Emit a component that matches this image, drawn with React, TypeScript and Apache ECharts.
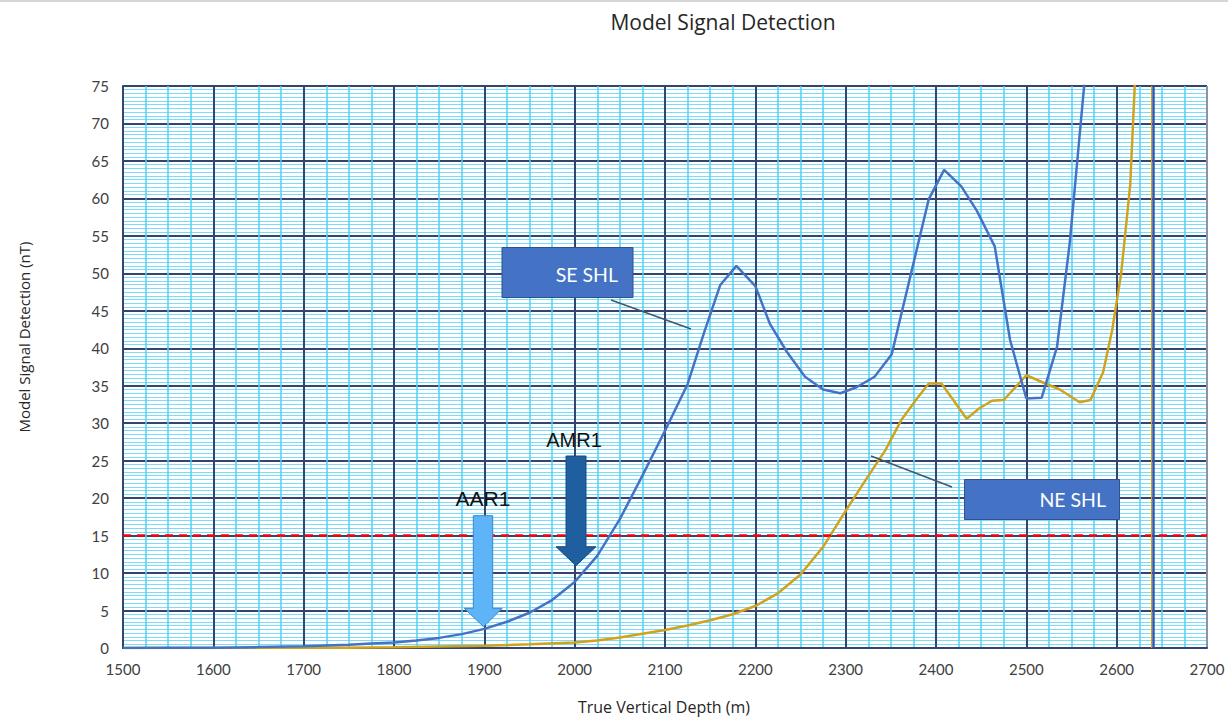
import React, { useEffect, useRef } from "react";
import * as echarts from "echarts";

// True vertical depth (m) and model signal detection (nT)
const seDepth = [1500, 1550, 1600, 1650, 1700, 1750, 1775, 1800, 1825, 1850, 1875, 1900, 1925, 1950, 1975, 2000, 2025, 2050, 2075, 2100, 2125, 2143, 2161, 2179, 2200, 2216, 2235, 2255, 2275, 2294, 2312, 2332, 2351, 2392, 2409, 2428, 2445, 2465, 2482, 2500, 2517, 2534, 2548, 2564, 2580];
const seSignal = [0, 0.02, 0.05, 0.12, 0.25, 0.45, 0.6, 0.75, 1.0, 1.35, 1.85, 2.55, 3.5, 4.7, 6.4, 8.8, 12.3, 17.2, 23.0, 29.0, 35.2, 42.0, 48.4, 51.0, 48.3, 43.3, 39.5, 36.2, 34.5, 34.0, 34.8, 36.2, 39.2, 59.9, 63.8, 61.6, 58.4, 53.6, 41.1, 33.3, 33.4, 40.2, 54.0, 75, 110];

const neDepth = [1500, 1600, 1700, 1750, 1800, 1850, 1900, 1950, 2000, 2025, 2050, 2075, 2100, 2125, 2150, 2175, 2200, 2225, 2250, 2275, 2300, 2322, 2344, 2362, 2379, 2392, 2406, 2434, 2448, 2462, 2475, 2500, 2521, 2537, 2559, 2571, 2585, 2595, 2605, 2615, 2620, 2630];
const neSignal = [0, 0, 0.02, 0.05, 0.1, 0.2, 0.3, 0.5, 0.75, 1.0, 1.4, 1.9, 2.4, 3.0, 3.7, 4.5, 5.6, 7.3, 9.8, 13.5, 18.3, 22.4, 26.4, 30.5, 33.3, 35.3, 35.3, 30.6, 32.0, 33.0, 33.1, 36.4, 35.3, 34.5, 32.8, 33.1, 36.8, 42.4, 50.0, 61.8, 75, 100];

const thresholdLevel = 15;
const tdDepth = 2641;

const xMin = 1500, xMax = 2700, xStep = 100;
const yMin = 0, yMax = 75, yStep = 5;

const seriesNames = ["SE SHL", "NE SHL"];
const arrowLabels = ["AAR1", "AMR1"];

const BLUE = "#4472C4";
const GOLD = "#D1A21C";
const MAJOR = "#34446F";
const MINOR_X = "#4FD0F6";
const MINOR_Y = "#7CDBF8";

function pairs(xs: number[], ys: number[]) {
  return xs.map((x, i) => [x, ys[i]]);
}

export default function App() {
  const ref = useRef<HTMLDivElement>(null);
  useEffect(() => {
    if (!ref.current) return;
    const chart = echarts.init(ref.current, null, { renderer: "svg" });
    const nX = Math.round((xMax - xMin) / xStep) + 1;
    const xSplitColors = Array.from({ length: nX }, (_, i) => (i === nX - 1 ? "#8C93A3" : MAJOR));
    const arrow = (pts: number[][], fill: string, stroke: string) => ({
      type: "polygon",
      shape: { points: pts },
      style: { fill, stroke, lineWidth: 1 },
      z: 100,
    });
    chart.setOption({
      animation: false,
      backgroundColor: "#fff",
      title: {
        text: "Model Signal Detection",
        left: 718,
        textAlign: "center",
        top: 6,
        textStyle: { fontFamily: "Open Sans", fontSize: 21, fontWeight: "normal", color: "#262626" },
      },
      grid: { left: 123, right: 21, top: 86, bottom: 69, containLabel: false },
      xAxis: {
        type: "value",
        min: xMin,
        max: xMax,
        interval: xStep,
        axisLine: { show: true, onZero: false, lineStyle: { color: MAJOR, width: 2 } },
        axisTick: { show: false },
        axisLabel: { fontFamily: "Lato", fontSize: 15, color: "#404040", margin: 13, formatter: (v: number) => String(v) },
        splitLine: { show: true, lineStyle: { color: xSplitColors, width: 2 } },
        minorTick: { show: false, splitNumber: 4 },
        minorSplitLine: { show: true, lineStyle: { color: MINOR_X, width: 1.5 } },
      },
      yAxis: {
        type: "value",
        min: yMin,
        max: yMax,
        interval: yStep,
        axisLine: { show: true, lineStyle: { color: MAJOR, width: 2 } },
        axisTick: { show: false },
        axisLabel: { fontFamily: "Lato", fontSize: 15, color: "#404040", margin: 14, formatter: (v: number) => String(v) },
        splitLine: { show: true, lineStyle: { color: MAJOR, width: 2 } },
        minorTick: { show: false, splitNumber: 10 },
        minorSplitLine: { show: true, lineStyle: { color: MINOR_Y, width: 1.2 } },
      },
      series: [
        {
          name: seriesNames[0],
          type: "line",
          data: pairs(seDepth, seSignal),
          showSymbol: false,
          clip: true,
          z: 5,
          lineStyle: { color: BLUE, width: 2.5 },
          itemStyle: { color: BLUE },
          markLine: {
            silent: true,
            symbol: "none",
            label: { show: false },
            data: [
              { yAxis: thresholdLevel, lineStyle: { color: "#FF0000", width: 2.5, type: [8, 6] } },
              { xAxis: tdDepth, lineStyle: { color: "#3557A6", width: 2.5, type: "solid" } },
            ],
          },
        },
        {
          name: seriesNames[1],
          type: "line",
          data: pairs(neDepth, neSignal),
          showSymbol: false,
          clip: true,
          z: 4,
          lineStyle: { color: GOLD, width: 2.5 },
          itemStyle: { color: GOLD },
          markLine: {
            silent: true,
            symbol: "none",
            label: { show: false },
            data: [{ xAxis: tdDepth - 2.5, lineStyle: { color: GOLD, width: 1, type: "solid" } }],
          },
        },
      ],
      graphic: [
        { type: "rect", shape: { x: 0, y: 0, width: 1228, height: 2 }, style: { fill: "#D6D6D6" }, z: 100 },
        {
          type: "text",
          x: 24,
          y: 337,
          rotation: Math.PI / 2,
          style: {
            text: "Model Signal Detection (nT)",
            fontFamily: "Open Sans",
            fontSize: 15,
            fill: "#262626",
            align: "center",
            verticalAlign: "middle",
          },
          z: 100,
        },
        {
          type: "text",
          x: 664,
          y: 707,
          style: {
            text: "True Vertical Depth (m)",
            fontFamily: "Open Sans",
            fontSize: 16,
            fill: "#262626",
            align: "center",
            verticalAlign: "middle",
          },
          z: 100,
        },
        // SE SHL callout
        { type: "rect", shape: { x: 502, y: 247.5, width: 131, height: 50 }, style: { fill: BLUE, stroke: "#2F528F", lineWidth: 1 }, z: 100 },
        {
          type: "text",
          x: 618,
          y: 274,
          style: { text: seriesNames[0], fontFamily: "Lato", fontSize: 19.5, fill: "#fff", align: "right", verticalAlign: "middle" },
          z: 101,
        },
        { type: "line", shape: { x1: 611, y1: 300, x2: 691, y2: 329 }, style: { stroke: "#44546A", lineWidth: 1.5 }, z: 100 },
        // NE SHL callout
        { type: "rect", shape: { x: 964.5, y: 479.5, width: 155, height: 40 }, style: { fill: BLUE, stroke: "#2F528F", lineWidth: 1 }, z: 100 },
        {
          type: "text",
          x: 1106,
          y: 499,
          style: { text: seriesNames[1], fontFamily: "Lato", fontSize: 19.5, fill: "#fff", align: "right", verticalAlign: "middle" },
          z: 101,
        },
        { type: "line", shape: { x1: 871, y1: 456, x2: 952, y2: 487 }, style: { stroke: "#44546A", lineWidth: 1.5 }, z: 100 },
        // AAR1 arrow
        arrow(
          [[473.3, 515.7], [492.7, 515.7], [492.7, 608.3], [502.3, 608.3], [483.5, 626.7], [464.3, 608.3], [473.3, 608.3]],
          "#5DB5F7",
          "#3A86C8"
        ),
        {
          type: "text",
          x: 483,
          y: 498,
          style: { text: arrowLabels[0], fontFamily: "Liberation Sans Narrow, Liberation Sans", fontSize: 21, fill: "#111", align: "center", verticalAlign: "middle" },
          z: 101,
        },
        // AMR1 arrow
        arrow(
          [[566, 456], [586, 456], [586, 546.7], [596, 546.7], [576, 565.7], [556, 546.7], [566, 546.7]],
          "#1F5E9F",
          "#184C82"
        ),
        {
          type: "text",
          x: 574,
          y: 440,
          style: { text: arrowLabels[1], fontFamily: "Liberation Sans Narrow, Liberation Sans", fontSize: 20, fill: "#111", align: "center", verticalAlign: "middle" },
          z: 101,
        },
      ],
    });
    return () => chart.dispose();
  }, []);
  return (
    <div
      ref={ref}
      style={{ position: "fixed", left: 0, top: 0, width: 1228, height: 717, background: "#fff" }}
    />
  );
}
